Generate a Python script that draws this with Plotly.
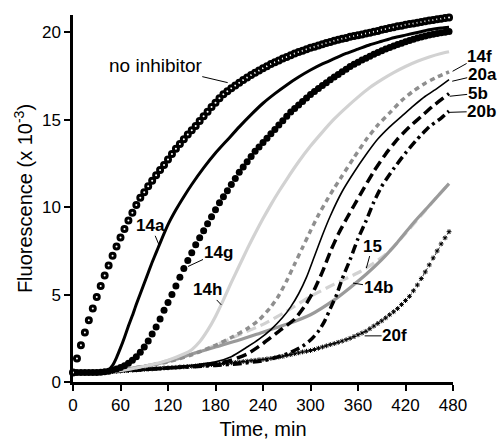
import plotly.graph_objects as go

# Sampling times (min) for the marker series
t5 = list(range(0, 480, 5))

no_inhibitor = [0.55, 1.34, 2.10, 2.83, 3.54, 4.21, 4.86, 5.49, 6.09, 6.67, 7.22, 7.76, 8.27, 8.76, 9.24, 9.69,
                10.13, 10.55, 10.86, 11.20, 11.52, 11.83, 12.13, 12.41, 12.73, 13.04, 13.34, 13.62, 13.89, 14.16,
                14.41, 14.65, 14.94, 15.21, 15.47, 15.73, 15.98, 16.23, 16.46, 16.64, 16.81, 16.97, 17.13, 17.28,
                17.43, 17.56, 17.70, 17.83, 17.95, 18.07, 18.19, 18.30, 18.40, 18.51, 18.60, 18.70, 18.79, 18.88,
                18.96, 19.04, 19.12, 19.19, 19.26, 19.33, 19.40, 19.46, 19.52, 19.58, 19.64, 19.69, 19.75, 19.80,
                19.84, 19.89, 19.94, 19.98, 20.04, 20.09, 20.15, 20.20, 20.25, 20.30, 20.35, 20.39, 20.44, 20.48,
                20.52, 20.56, 20.60, 20.64, 20.68, 20.72, 20.75, 20.79, 20.83, 20.86]

c14g = [0.55, 0.55, 0.55, 0.55, 0.55, 0.55, 0.55, 0.56, 0.58, 0.62, 0.68, 0.75, 0.83, 0.93, 1.08, 1.25,
        1.45, 1.70, 2.00, 2.35, 2.75, 3.15, 3.60, 4.10, 4.55, 5.00, 5.50, 6.00, 6.50, 6.95, 7.40, 7.85,
        8.25, 8.65, 9.05, 9.45, 9.85, 10.25, 10.60, 10.95, 11.30, 11.65, 12.00, 12.30, 12.60, 12.90, 13.20,
        13.45, 13.70, 13.95, 14.20, 14.45, 14.70, 14.95, 15.20, 15.45, 15.65, 15.85, 16.05, 16.25, 16.45,
        16.62, 16.80, 16.97, 17.13, 17.30, 17.45, 17.60, 17.75, 17.90, 18.05, 18.18, 18.30, 18.42, 18.53,
        18.64, 18.75, 18.85, 18.95, 19.05, 19.14, 19.23, 19.31, 19.39, 19.47, 19.54, 19.61, 19.68, 19.74,
        19.80, 19.85, 19.90, 19.94, 19.98, 20.02, 20.05]

c20f = [0.55, 0.55, 0.55, 0.55, 0.55, 0.55, 0.56, 0.57, 0.58, 0.59, 0.60, 0.62, 0.63, 0.65, 0.66, 0.68,
        0.69, 0.71, 0.72, 0.74, 0.75, 0.77, 0.78, 0.80, 0.81, 0.83, 0.84, 0.86, 0.87, 0.89, 0.90, 0.92,
        0.94, 0.96, 0.98, 1.00, 1.02, 1.04, 1.06, 1.08, 1.10, 1.12, 1.14, 1.17, 1.19, 1.22, 1.24, 1.27,
        1.29, 1.32, 1.35, 1.39, 1.43, 1.47, 1.52, 1.57, 1.62, 1.67, 1.72, 1.76, 1.80, 1.86, 1.93, 2.00,
        2.07, 2.14, 2.20, 2.27, 2.34, 2.42, 2.50, 2.60, 2.70, 2.80, 2.90, 3.05, 3.20, 3.35, 3.50, 3.67,
        3.85, 4.02, 4.20, 4.43, 4.66, 4.90, 5.22, 5.55, 5.92, 6.30, 6.70, 7.10, 7.50, 7.90, 8.25, 8.60]

# Line series (time, value)
t14a = [0, 15, 30, 40, 45, 50, 55, 60, 65, 70, 75, 80, 85, 90, 95, 100, 105, 110, 120, 130, 140, 150, 165,
        180, 195, 210, 225, 240, 255, 270, 285, 300, 315, 330, 345, 360, 375, 390, 405, 420, 435, 450, 465, 475]
c14a = [0.55, 0.55, 0.57, 0.62, 0.70, 0.95, 1.40, 1.95, 2.55, 3.20, 3.80, 4.45, 5.05, 5.65, 6.25, 6.85,
        7.40, 7.95, 9.00, 9.85, 10.60, 11.30, 12.25, 13.10, 13.85, 14.60, 15.30, 15.95, 16.50, 17.00, 17.45,
        17.85, 18.20, 18.50, 18.80, 19.05, 19.30, 19.50, 19.70, 19.85, 20.00, 20.15, 20.25, 20.30]

t14h = [0, 30, 60, 90, 120, 140, 150, 160, 170, 180, 190, 200, 210, 220, 230, 240, 250, 260, 270, 285,
        300, 315, 330, 345, 360, 375, 390, 405, 420, 435, 450, 465, 475]
c14h = [0.55, 0.57, 0.65, 0.90, 1.25, 1.60, 1.85, 2.30, 2.95, 3.75, 4.70, 5.70, 6.65, 7.60, 8.50, 9.35,
        10.15, 10.90, 11.60, 12.60, 13.50, 14.30, 15.05, 15.70, 16.30, 16.85, 17.30, 17.70, 18.05, 18.35,
        18.60, 18.80, 18.90]

t14f = [0, 30, 60, 90, 120, 150, 180, 200, 220, 235, 250, 260, 270, 280, 290, 300, 310, 320, 330, 340,
        355, 370, 385, 400, 415, 430, 445, 460, 475]
c14f = [0.55, 0.57, 0.68, 0.90, 1.15, 1.55, 2.10, 2.55, 3.05, 3.55, 4.30, 4.95, 5.80, 6.75, 7.70, 8.65,
        9.55, 10.35, 11.10, 11.80, 12.85, 13.85, 14.70, 15.40, 16.10, 16.65, 17.10, 17.45, 17.75]

t20a = [0, 60, 120, 150, 180, 200, 220, 235, 250, 265, 275, 285, 295, 305, 315, 325, 340, 355, 370, 385,
        400, 415, 430, 445, 460, 475]
c20a = [0.55, 0.60, 0.80, 0.95, 1.15, 1.45, 2.00, 2.45, 3.00, 3.70, 4.30, 5.05, 6.00, 7.20, 8.40, 9.50,
        10.90, 12.00, 13.00, 13.90, 14.60, 15.20, 15.80, 16.35, 16.80, 17.30]

t5b = [0, 60, 100, 150, 180, 200, 220, 240, 260, 280, 295, 305, 315, 325, 335, 345, 355, 365, 380, 395,
       410, 425, 440, 455, 475]
c5b = [0.55, 0.65, 0.75, 0.90, 1.05, 1.25, 1.60, 2.20, 2.90, 3.60, 4.50, 5.30, 6.30, 7.45, 8.45, 9.30,
       10.10, 10.90, 12.05, 13.05, 13.90, 14.60, 15.20, 15.80, 16.50]

t20b = [0, 60, 120, 180, 210, 240, 260, 275, 290, 300, 310, 318, 325, 333, 340, 350, 360, 370, 380, 390,
        405, 420, 435, 450, 465, 475]
c20b = [0.55, 0.62, 0.80, 0.95, 1.05, 1.22, 1.45, 1.70, 2.05, 2.40, 2.90, 3.50, 4.20, 5.00, 5.90, 7.00,
        8.20, 9.20, 10.30, 11.20, 12.20, 13.10, 13.90, 14.60, 15.10, 15.50]

t14b = [0, 60, 90, 110, 130, 150, 180, 210, 240, 270, 300, 330, 350, 370, 390, 410, 430, 450, 475]
c14b = [0.55, 0.68, 0.90, 1.07, 1.30, 1.60, 2.00, 2.40, 2.85, 3.30, 3.85, 4.70, 5.40, 6.15, 7.00, 8.00,
        9.10, 10.10, 11.35]

t15 = [0, 60, 100, 150, 180, 210, 240, 270, 300, 330, 360, 380, 400, 420, 440, 460, 475]
c15 = [0.55, 0.70, 1.00, 1.60, 2.10, 2.70, 3.30, 4.05, 4.90, 5.60, 6.25, 6.80, 7.50, 8.50, 9.55, 10.60, 11.35]

x_ticks = [0, 60, 120, 180, 240, 300, 360, 420, 480]
y_ticks = [0, 5, 10, 15, 20]

# Labels: (text, curve time, curve value, dx px, dy px, bold)
labels = [
    ("no inhibitor", 195.4, 17.13, -72, -17, False),
    ("14a", 108.6, 7.85, -8, -19, True),
    ("14g", 145.3, 6.61, 30, -14, True),
    ("14h", 187.4, 4.41, -14, -15, True),
    ("14f", 479.5, 17.78, 27, -15, True),
    ("20a", 479.0, 17.21, 30, -7, True),
    ("5b", 475.8, 16.35, 28, -3, True),
    ("20b", 475.8, 15.43, 32, -1, True),
    ("15", 370.6, 6.52, 6, -22, True),
    ("14b", 353.7, 5.66, 25, 4, True),
    ("20f", 368.4, 2.64, 30, 0, True),
]

FONT = "Arial, Liberation Sans, sans-serif"
LIGHT = "#d2d2d2"
MID = "#8f8f8f"
GRAY = "#9a9a9a"

fig = go.Figure()


def add_line(x, y, color, width, dash="solid"):
    fig.add_trace(go.Scatter(x=x, y=y, mode="lines", line=dict(color=color, width=width, dash=dash,
                                                                 shape="spline", smoothing=0.6),
                             showlegend=False, hoverinfo="skip", cliponaxis=False))


add_line(t15, c15, LIGHT, 3.2, "10px,5px")
add_line(t14b, c14b, GRAY, 3.2)
fig.add_trace(go.Scatter(x=t5, y=c20f, mode="lines+markers",
                         line=dict(color="black", width=0.8, dash="dot"),
                         marker=dict(symbol="asterisk-open", size=4, line=dict(color="black", width=1)),
                         showlegend=False, hoverinfo="skip", cliponaxis=False))
add_line(t20b, c20b, "black", 3.5, "9px,4px,3px,4px")
add_line(t5b, c5b, "black", 3.5, "10px,5px")
add_line(t20a, c20a, "black", 1.6)
add_line(t14f, c14f, MID, 3.5, "5px,4px")
add_line(t14h, c14h, LIGHT, 3.2)
add_line(t14a, c14a, "black", 3)
fig.add_trace(go.Scatter(x=t5, y=c14g, mode="markers",
                         marker=dict(symbol="circle", size=7, color="black", line=dict(width=0)),
                         showlegend=False, hoverinfo="skip", cliponaxis=False))
fig.add_trace(go.Scatter(x=t5, y=no_inhibitor, mode="markers",
                         marker=dict(symbol="circle", size=5, color="white", line=dict(color="black", width=3)),
                         showlegend=False, hoverinfo="skip", cliponaxis=False))

for text, xv, yv, dx, dy, bold in labels:
    fig.add_annotation(x=xv, y=yv, xref="x", yref="y", text=f"<b>{text}</b>" if bold else text,
                       showarrow=True, arrowhead=0, arrowwidth=1, arrowcolor="black", ax=dx, ay=dy,
                       font=dict(family=FONT, size=17 if bold else 19, color="black"), borderpad=0)

fig.update_layout(
    width=501, height=440,
    margin=dict(l=73, r=48, t=15, b=58),
    paper_bgcolor="white", plot_bgcolor="white",
    font=dict(family=FONT, color="black"),
    xaxis=dict(range=[0, 480], tickvals=x_ticks, ticktext=[str(v) for v in x_ticks], automargin=False,
               showline=True, linecolor="black", linewidth=2.5, ticks="outside", ticklen=6, tickwidth=2,
               tickcolor="black", showgrid=False, zeroline=False, tickfont=dict(size=17),
               title=dict(text="Time, min", font=dict(size=20), standoff=24)),
    yaxis=dict(range=[0, 21], tickvals=y_ticks, ticktext=[str(v) for v in y_ticks], automargin=False,
               showline=True, linecolor="black", linewidth=2.5, ticks="outside", ticklen=6, tickwidth=2,
               tickcolor="black", showgrid=False, zeroline=False, tickfont=dict(size=17),
               title=dict(text="Fluorescence (x 10<sup>-3</sup>)", font=dict(size=20), standoff=4)),
)

fig.write_html("out.html", config={"displayModeBar": False},
               post_script="document.body.style.margin='0';document.body.style.overflow='hidden';")
